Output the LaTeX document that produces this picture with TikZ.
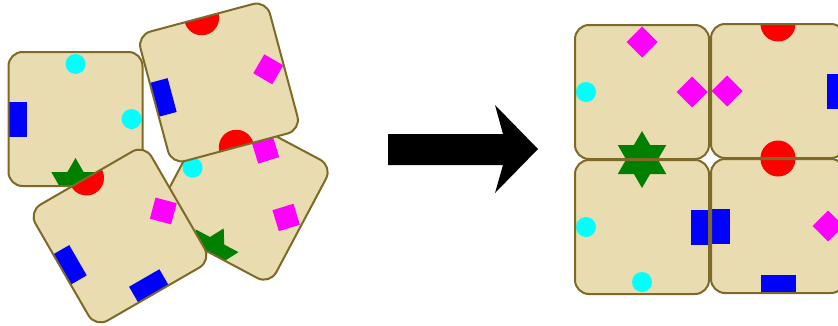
\documentclass[tikz,border=0pt]{standalone}
\usepackage{tikz}
\usepackage{xcolor}

\definecolor{tilefill}{RGB}{232,220,176}
\definecolor{rim}{RGB}{125,105,40}
\definecolor{leaf}{RGB}{0,128,0}
\definecolor{aqua}{RGB}{0,255,255}
\definecolor{fuchsia}{RGB}{255,0,255}
\definecolor{pureblue}{RGB}{0,0,255}
\definecolor{purered}{RGB}{255,0,0}

% pieces that sit on a tile (tile units = pixels, y downwards)
\newcommand{\gem}[2]{\fill[gem,shift={(#1,#2)}] (-15.5,0) -- (0,-15.5) -- (15.5,0) -- (0,15.5) -- cycle;}
\newcommand{\hexa}[2]{\fill[hexa,shift={(#1,#2)}] (90:28) -- (210:28) -- (330:28) -- cycle (270:28) -- (30:28) -- (150:28) -- cycle;}
\newcommand{\tile}[1]{%
    \fill[tilebody] (-67,-67) rectangle (67,67);
    \begin{scope}
        \clip[rounded corners=10.5pt] (-67,-67) rectangle (67,67);
        #1
    \end{scope}
    \draw[tileedge] (-67,-67) rectangle (67,67);
}

\begin{document}
\begin{tikzpicture}[x=0.75pt, y=-0.75pt,
    tilebody/.style={fill=tilefill, rounded corners=10.5pt},
    tileedge/.style={draw=rim, line width=1.5pt, rounded corners=10.5pt},
    dot/.style={fill=aqua},
    gem/.style={fill=fuchsia},
    brick/.style={fill=pureblue},
    bead/.style={fill=purered},
    hexa/.style={fill=leaf},
    tileA/.pic={\tile{\gem{0}{-50} \gem{50}{0} \fill[dot] (-56,0) circle (10); \hexa{0}{67}}},
    tileB/.pic={\tile{\fill[bead] (0,-67) circle (17.5); \fill[bead] (0,67) circle (17.5); \gem{-51}{0}
        \fill[brick] (48.5,-17.5) rectangle (85.5,17.5);}},
    tileC/.pic={\tile{\fill[dot] (-56,0) circle (10); \fill[dot] (0,55) circle (10);
        \fill[brick] (48.5,-17.5) rectangle (85.5,17.5); \hexa{0}{-67}}},
    tileD/.pic={\tile{\fill[bead] (0,-67) circle (17.5); \gem{50}{0}
        \fill[brick] (-85.5,-17.5) rectangle (-48.5,17.5); \fill[brick] (-17.5,48.5) rectangle (17.5,85.5);}}
    ]

    \useasboundingbox (0,0) rectangle (838,325);
    \clip (0,0) rectangle (838,325);

    % Scattered tiles
    \pic[rotate=180] at (75.5,119) {tileC};
    \pic[rotate=-28] at (242,194) {tileA};
    \pic[rotate=30] at (120,236) {tileD};
    \pic[rotate=-165] at (219,82.5) {tileB};

    % Arrow
    \fill[black] (388,134) -- (503,134) -- (495,105) -- (538,149) -- (495,193) -- (503,165) -- (388,165) -- cycle;

    % Assembled tiles
    \pic at (642,92) {tileA};
    \pic at (778,91) {tileB};
    \pic at (642,227) {tileC};
    \pic at (778,226) {tileD};

\end{tikzpicture}
\end{document}
